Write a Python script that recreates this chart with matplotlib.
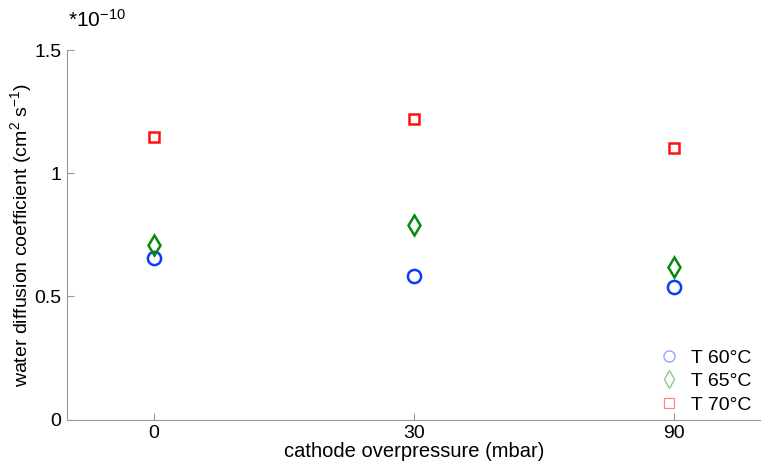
import matplotlib
matplotlib.use("Agg")
import matplotlib.pyplot as plt

plt.rcParams['font.family'] = ['Liberation Sans', 'DejaVu Sans']
plt.rcParams['mathtext.fontset'] = 'custom'
plt.rcParams['mathtext.rm'] = 'Liberation Sans'
plt.rcParams['mathtext.it'] = 'Liberation Sans'
plt.rcParams['mathtext.default'] = 'regular'

categories = ['0', '30', '90']
t60 = [0.657, 0.584, 0.539]
t65 = [0.708, 0.789, 0.620]
t70 = [1.148, 1.220, 1.104]
labels = ['T 60°C', 'T 65°C', 'T 70°C']

fig = plt.figure(figsize=(7.61, 4.61), dpi=100)
ax = fig.add_axes([67 / 761, (461 - 419.5) / 461, 694 / 761, 369.5 / 461])

pos = range(1, len(categories) + 1)
series = [(t60, 'o', '#0a3cff', 9.5, 8), (t65, 'd', '#0a8a0a', 10, 9), (t70, 's', '#ff1010', 7.5, 6.5)]
handles = []
for vals, mk, col, ms, lms in series:
    ax.plot(pos, vals, linestyle='none', marker=mk, markersize=ms,
            markerfacecolor='none', markeredgecolor=col, markeredgewidth=1.8)
    h, = ax.plot([], [], linestyle='none', marker=mk, markersize=lms,
                 markerfacecolor='none', markeredgecolor=col, markeredgewidth=0.9,
                 alpha=0.5)
    handles.append(h)

ax.set_xlim(1 - 87 / 261, 3 + 87 / 261)
ax.set_ylim(0, 1.5)
ax.set_xticks(list(pos))
ax.set_xticklabels(categories)
ax.set_yticks([0, 0.5, 1, 1.5])
ax.set_yticklabels(['0', '0.5', '1', '1.5'])

for s in ['top', 'right']:
    ax.spines[s].set_visible(False)
for s in ['left', 'bottom']:
    ax.spines[s].set_color('#999999')
ax.tick_params(direction='in', length=5, color='#999999', labelsize=14)
ax.tick_params(axis='x', pad=4)
ax.tick_params(axis='y', pad=4)

ax.set_xlabel('cathode overpressure (mbar)', fontsize=14.5)
ax.xaxis.set_label_coords(0.5, (419.5 - 442) / 369.5)
ax.set_ylabel('water diffusion coefficient (cm$^2$ s$^{-1}$)', fontsize=14)
ax.yaxis.set_label_coords((34 - 67) / 694, 0.5)
fig.text(68 / 761, 1 - 20 / 461, '*10$^{-10}$', fontsize=15, va='center', ha='left')

leg = ax.legend(handles, labels, loc='lower right', frameon=False, fontsize=14,
                handlelength=1.0, handletextpad=0.6, labelspacing=0.3,
                borderaxespad=0.0, bbox_to_anchor=(1.0 - 2 / 694, -2 / 369.5))

fig.savefig('out.png', dpi=100)
